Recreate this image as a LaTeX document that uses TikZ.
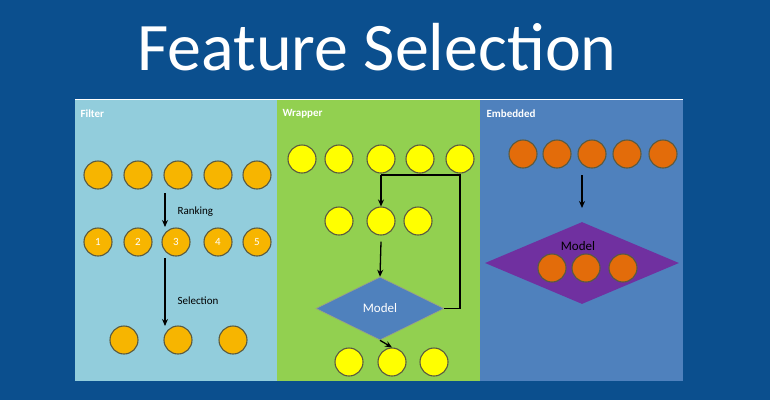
\documentclass[tikz,border=0pt]{standalone}
\usepackage{fontspec}
\setmainfont{Carlito}
\usetikzlibrary{shapes.geometric,arrows.meta}
\definecolor{bg}{HTML}{0B4F8E}
\definecolor{pfilter}{HTML}{92CDDC}
\definecolor{pwrap}{HTML}{92D050}
\definecolor{pemb}{HTML}{4F81BD}
\definecolor{cgold}{HTML}{F7B500}
\definecolor{cyel}{HTML}{FFFF00}
\definecolor{corg}{HTML}{E36C0A}
\definecolor{ring}{HTML}{5A5A40}
\definecolor{dblue}{HTML}{4F81BD}
\definecolor{dpurp}{HTML}{7030A0}
\tikzset{
  ball/.style={circle,draw=ring,line width=1.1pt,minimum size=28pt,inner sep=0pt,text=white,font=\fontsize{11}{11}\selectfont},
  gball/.style={ball,fill=cgold},
  yball/.style={ball,fill=cyel},
  oball/.style={ball,fill=corg},
  arr/.style={-{Stealth[length=7pt,width=6pt]},line width=1.3pt,black},
  ptitle/.style={anchor=west,text=white,font=\bfseries\fontsize{11}{11}\selectfont},
  lbl/.style={anchor=west,font=\fontsize{11}{11}\selectfont},
  dia/.style={diamond,inner sep=0pt,draw=ring!60,line width=0.6pt}
}
\begin{document}
\begin{tikzpicture}[x=1pt,y=-1pt]
\fill[bg] (0,0) rectangle (770,400);
\useasboundingbox (0,0) rectangle (770,400);
\node[text=white,font=\fontsize{68}{68}\selectfont] (title) at (377,47) {Feature Selection};
\fill[pfilter] (75,99) rectangle (277,381);
\fill[pwrap] (277,99) rectangle (480,381);
\fill[pemb] (480,99) rectangle (683,381);
\draw[white,line width=1pt] (75,99) -- (683,99);
\node[ptitle] (tf) at (77,114) {Filter};
\node[ptitle] (tw) at (279,114) {Wrapper};
\node[ptitle] (te) at (483,114) {Embedded};
% Filter
\foreach \x [count=\i] in {98,138,178,218,257} \node[gball] (fa\i) at (\x,175) {};
\foreach \x [count=\i] in {98,138,176,218,257} \node[gball] (fb\i) at (\x,242) {\i};
\foreach \x [count=\i] in {124,178,233} \node[gball] (fc\i) at (\x,340) {};
\coordinate (f1s) at (165,193); \coordinate (f1e) at (165,227);
\coordinate (f2s) at (165,258); \coordinate (f2e) at (165,326);
\draw[arr] (f1s) -- (f1e);
\draw[arr] (f2s) -- (f2e);
\node[lbl] (rank) at (174,212) {Ranking};
\node[lbl] (sel) at (174,301) {Selection};
% Wrapper
\foreach \x [count=\i] in {302,339,381,420,460} \node[yball] (wa\i) at (\x,159) {};
\foreach \x [count=\i] in {339,381,418} \node[yball] (wb\i) at (\x,221) {};
\foreach \x [count=\i] in {349,392,434} \node[yball] (wc\i) at (\x,362) {};
\node[dia,fill=dblue,minimum width=128pt,minimum height=63pt,text=white,font=\fontsize{13}{13}\selectfont] (wm) at (380,308.5) {Model};
\coordinate (lp1) at (460,308.5);
\coordinate (lp2) at (460,175);
\coordinate (lp3) at (381,175);
\draw[line width=1.3pt] (wm.east) -- (lp1) -- (lp2) -- (lp3);
\draw[arr] (lp3) -- (wb2.north);
\draw[arr] (wb2.south) ++(0,6) -- (wm.north);
\draw[arr] (wm.south) -- (wc2.north);
% Embedded
\foreach \x [count=\i] in {523,557,592,627,663} \node[oball] (ea\i) at (\x,154) {};
\coordinate (e1s) at (582,175); \coordinate (e1e) at (582,208);
\draw[arr] (e1s) -- (e1e);
\node[dia,fill=dpurp,draw=none,minimum width=194pt,minimum height=82pt] (em) at (582,263) {};
\node[font=\fontsize{13}{13}\selectfont] (emt) at (578,246) {Model};
\foreach \x [count=\i] in {552,586,623} \node[oball] (eb\i) at (\x,268) {};
\end{tikzpicture}
\end{document}
